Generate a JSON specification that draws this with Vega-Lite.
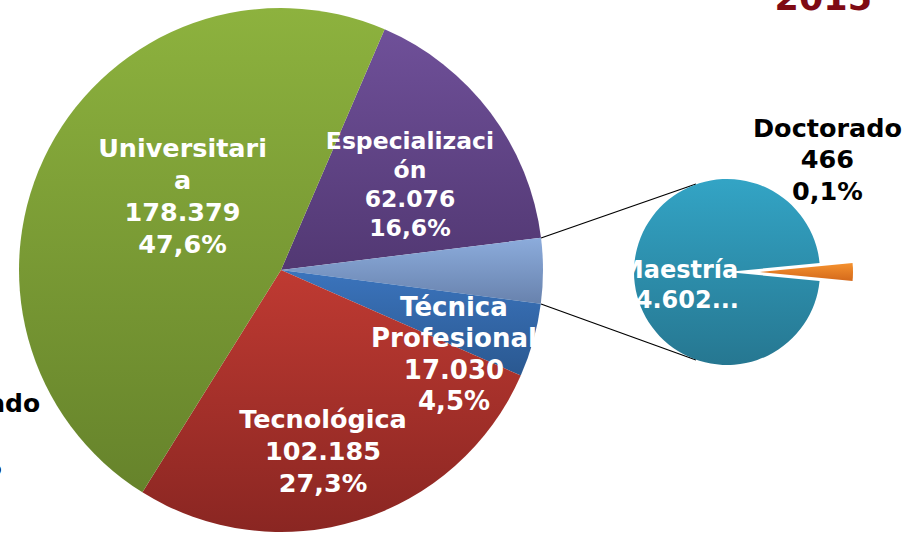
{
  "$schema": "https://vega.github.io/schema/vega-lite/v6.json",
  "background": "white",
  "padding": {"left": 0, "top": -18, "right": 0, "bottom": 0},
  "title": {"text": "2015", "anchor": "end", "font": "DejaVu Sans", "fontSize": 35, "fontWeight": "bold", "color": "#7f0a14", "offset": -17, "dx": -30},
  "spacing": 0,
  "bounds": "flush",
  "config": {"view": {"stroke": null}},
  "hconcat": [
    {
      "width": 562,
      "height": 540,
      "data": {"values": [
        {"k": "Especialización", "v": 62076, "ord": 1, "lab": "Especializaci\nón\n62.076\n16,6%"},
        {"k": "Maestría y Doctorado", "v": 15068, "ord": 2, "lab": ""},
        {"k": "Técnica Profesional", "v": 17030, "ord": 3, "lab": "Técnica\nProfesional\n17.030\n4,5%"},
        {"k": "Tecnológica", "v": 102185, "ord": 4, "lab": "Tecnológica\n102.185\n27,3%"},
        {"k": "Universitaria", "v": 178379, "ord": 5, "lab": "Universitari\na\n178.379\n47,6%"}
      ]},
      "layer": [
        {
          "mark": {"type": "arc", "radius": 262},
          "encoding": {
            "theta": {"field": "v", "type": "quantitative", "stack": true, "scale": {"range": [0.4067, 6.6899]}},
            "order": {"field": "ord", "type": "quantitative"},
            "color": {
              "condition": [
                {"test": "datum.k === 'Universitaria'", "value": {"gradient": "linear", "x1": 0, "y1": 0, "x2": 0, "y2": 1, "stops": [{"offset": 0, "color": "#8db23e"}, {"offset": 1, "color": "#66832b"}]}},
                {"test": "datum.k === 'Especialización'", "value": {"gradient": "linear", "x1": 0, "y1": 0, "x2": 0, "y2": 1, "stops": [{"offset": 0, "color": "#6f5099"}, {"offset": 1, "color": "#523873"}]}},
                {"test": "datum.k === 'Maestría y Doctorado'", "value": {"gradient": "linear", "x1": 0, "y1": 0, "x2": 0, "y2": 1, "stops": [{"offset": 0, "color": "#8cacdc"}, {"offset": 1, "color": "#6882ad"}]}},
                {"test": "datum.k === 'Técnica Profesional'", "value": {"gradient": "linear", "x1": 0, "y1": 0, "x2": 0, "y2": 1, "stops": [{"offset": 0, "color": "#3b74bd"}, {"offset": 1, "color": "#2a5890"}]}}
              ],
              "value": {"gradient": "linear", "x1": 0, "y1": 0, "x2": 0, "y2": 1, "stops": [{"offset": 0, "color": "#bf3a32"}, {"offset": 1, "color": "#8a2622"}]}
            }
          }
        },
        {
          "mark": {"type": "text", "radius": 156, "thetaOffset": 0.4054, "font": "DejaVu Sans", "fontWeight": "bold", "fontSize": 25.5, "lineHeight": 32, "lineBreak": "\n", "fill": "white", "align": "center", "baseline": "middle"},
          "encoding": {
            "theta": {"field": "v", "type": "quantitative", "stack": true},
            "order": {"field": "ord", "type": "quantitative"},
            "text": {"condition": {"test": "datum.k === 'Universitaria'", "field": "lab", "type": "nominal"}, "value": ""}
          }
        },
        {
          "mark": {"type": "text", "radius": 181.7, "thetaOffset": -0.1379, "font": "DejaVu Sans", "fontWeight": "bold", "fontSize": 23.5, "lineHeight": 29, "lineBreak": "\n", "fill": "white", "align": "center", "baseline": "middle"},
          "encoding": {
            "theta": {"field": "v", "type": "quantitative", "stack": true},
            "order": {"field": "ord", "type": "quantitative"},
            "text": {"condition": {"test": "datum.k === 'Especialización'", "field": "lab", "type": "nominal"}, "value": ""}
          }
        },
        {
          "mark": {"type": "text", "radius": 177.1, "thetaOffset": -0.0559, "font": "DejaVu Sans", "fontWeight": "bold", "fontSize": 26, "lineHeight": 31.5, "lineBreak": "\n", "fill": "white", "align": "center", "baseline": "middle"},
          "encoding": {
            "theta": {"field": "v", "type": "quantitative", "stack": true},
            "order": {"field": "ord", "type": "quantitative"},
            "text": {"condition": {"test": "datum.k === 'Técnica Profesional'", "field": "lab", "type": "nominal"}, "value": ""}
          }
        },
        {
          "mark": {"type": "text", "radius": 155.3, "thetaOffset": 0.0255, "font": "DejaVu Sans", "fontWeight": "bold", "fontSize": 25.5, "lineHeight": 32, "lineBreak": "\n", "fill": "white", "align": "center", "baseline": "middle"},
          "encoding": {
            "theta": {"field": "v", "type": "quantitative", "stack": true},
            "order": {"field": "ord", "type": "quantitative"},
            "text": {"condition": {"test": "datum.k === 'Tecnológica'", "field": "lab", "type": "nominal"}, "value": ""}
          }
        },
        {
          "data": {"values": [{"lab": "Doctorado\n466\n0,1%"}]},
          "mark": {"type": "text", "theta": 4.309, "radius": 341.4, "clip": true, "font": "DejaVu Sans", "fontWeight": "bold", "fontSize": 25, "lineHeight": 31.5, "lineBreak": "\n", "fill": "black", "align": "center", "baseline": "middle"},
          "encoding": {"text": {"field": "lab", "type": "nominal"}}
        },
        {
          "data": {"values": [{}]},
          "mark": {"type": "rule", "color": "black", "strokeWidth": 1.3},
          "encoding": {"x": {"value": 541}, "y": {"value": 238}, "x2": {"value": 696}, "y2": {"value": 184}}
        },
        {
          "data": {"values": [{}]},
          "mark": {"type": "rule", "color": "black", "strokeWidth": 1.3},
          "encoding": {"x": {"value": 541}, "y": {"value": 304}, "x2": {"value": 696}, "y2": {"value": 360}}
        }
      ]
    },
    {
      "width": 330,
      "height": 544,
      "data": {"values": [
        {"k": "Doctorado", "v": 466, "ord": 1, "lab": "Doctorado\n466\n0,1%"},
        {"k": "Maestría", "v": 14602, "ord": 2, "lab": "Maestría\n14.602..."}
      ]},
      "layer": [
        {
          "mark": {"type": "arc", "radius": 93},
          "encoding": {
            "theta": {"field": "v", "type": "quantitative", "stack": true, "scale": {"range": [1.4736, 7.7568]}},
            "order": {"field": "ord", "type": "quantitative"},
            "opacity": {"condition": {"test": "datum.k === 'Doctorado'", "value": 0}, "value": 1},
            "color": {"value": {"gradient": "linear", "x1": 0, "y1": 0, "x2": 0, "y2": 1, "stops": [{"offset": 0, "color": "#33a4c5"}, {"offset": 1, "color": "#267791"}]}}
          }
        },
        {
          "mark": {"type": "arc", "radius": 93, "xOffset": 33},
          "encoding": {
            "theta": {"field": "v", "type": "quantitative", "stack": true},
            "order": {"field": "ord", "type": "quantitative"},
            "opacity": {"condition": {"test": "datum.k === 'Doctorado'", "value": 1}, "value": 0},
            "color": {"value": {"gradient": "linear", "x1": 0, "y1": 0, "x2": 0, "y2": 1, "stops": [{"offset": 0, "color": "#f5922f"}, {"offset": 1, "color": "#d4691b"}]}}
          }
        },
        {
          "mark": {"type": "text", "radius": 48, "thetaOffset": 0.0105, "font": "DejaVu Sans", "fontWeight": "bold", "fontSize": 24, "lineHeight": 30, "lineBreak": "\n", "fill": "white", "align": "center", "baseline": "middle"},
          "encoding": {
            "theta": {"field": "v", "type": "quantitative", "stack": true},
            "order": {"field": "ord", "type": "quantitative"},
            "text": {"condition": {"test": "datum.k === 'Maestría'", "field": "lab", "type": "nominal"}, "value": ""}
          }
        },
        {
          "mark": {"type": "text", "radius": 175, "thetaOffset": -0.9592, "font": "DejaVu Sans", "fontWeight": "bold", "fontSize": 25.5, "lineHeight": 31.5, "lineBreak": "\n", "fill": "black", "align": "center", "baseline": "middle"},
          "encoding": {
            "theta": {"field": "v", "type": "quantitative", "stack": true},
            "order": {"field": "ord", "type": "quantitative"},
            "text": {"condition": {"test": "datum.k === 'Doctorado'", "field": "lab", "type": "nominal"}, "value": ""}
          }
        }
      ]
    }
  ]
}
